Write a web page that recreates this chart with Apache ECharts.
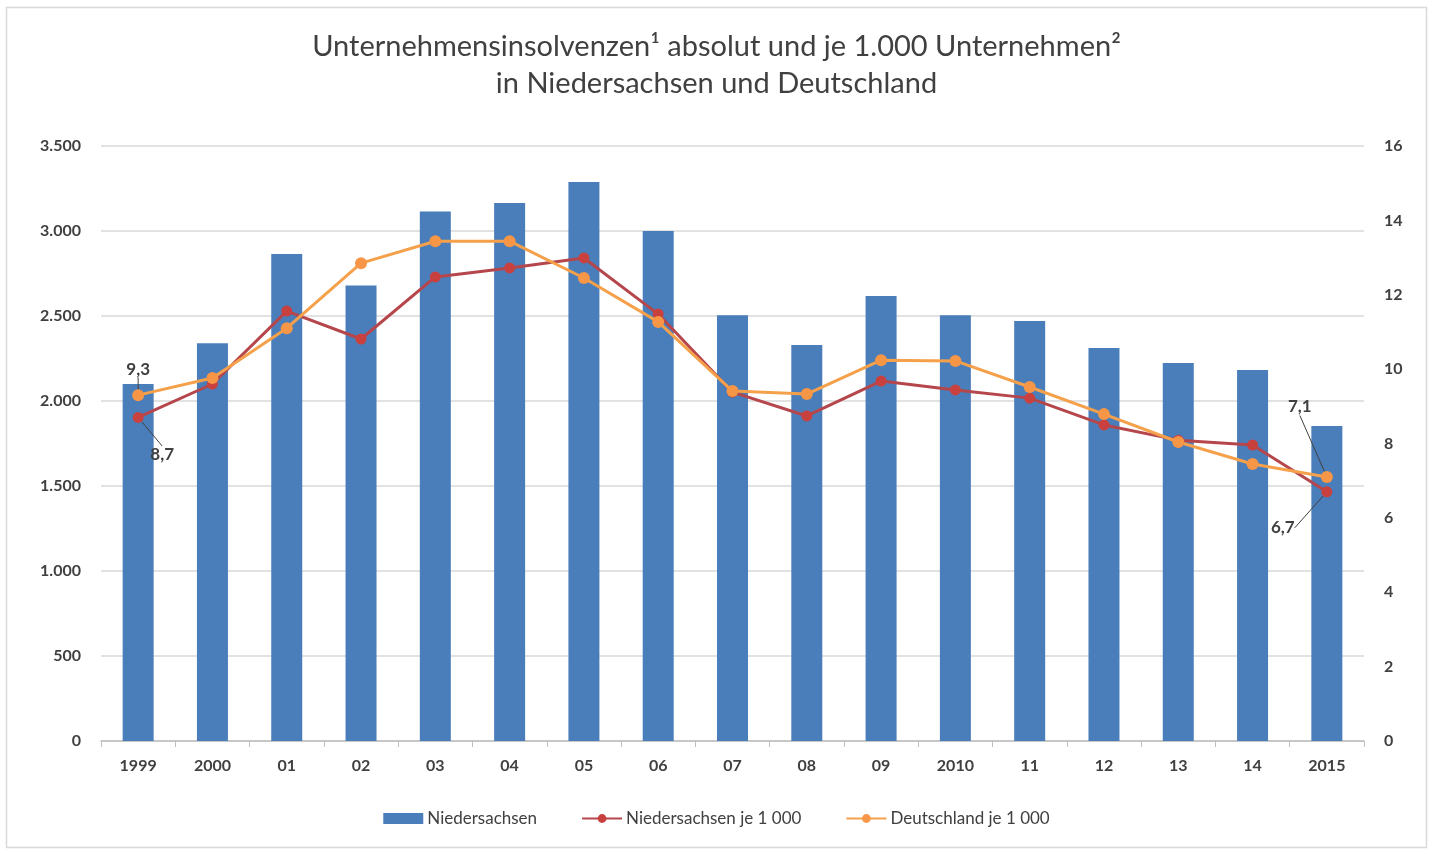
<!DOCTYPE html>
<html><head><meta charset="utf-8">
<script src="https://cdn.jsdelivr.net/npm/echarts@6/dist/echarts.min.js"></script>
<style>html,body{margin:0;padding:0;background:#fff}#c{width:1433px;height:854px}</style>
</head><body><div id="c"></div>
<script>
const categories = ['1999','2000','01','02','03','04','05','06','07','08','09','2010','11','12','13','14','2015'];
const niedersachsenAbs = [2100,2340,2865,2680,3115,3165,3288,3000,2505,2330,2618,2505,2470,2312,2224,2182,1853];
const niedersachsenJe1000 = [8.7,9.6,11.56,10.81,12.48,12.72,12.99,11.48,9.38,8.74,9.68,9.44,9.22,8.5,8.09,7.96,6.7];
const deutschlandJe1000 = [9.3,9.76,11.1,12.85,13.44,13.44,12.45,11.27,9.41,9.33,10.24,10.22,9.52,8.79,8.04,7.45,7.1];
const leftTicks = [0,500,1000,1500,2000,2500,3000,3500];
const rightTicks = [0,2,4,6,8,10,12,14,16];

const FONT = 'Lato, "Open Sans", sans-serif';
const TXT = '#404040';
const fmtDE = v => String(v).replace(/\B(?=(\d{3})+(?!\d))/g, '.');
const fmtDec = v => v.toFixed(1).replace('.', ',');
const labelStyle = {fontFamily: FONT, fontSize: 17, fontWeight: 'bold', color: TXT};

const chart = echarts.init(document.getElementById('c'));
chart.setOption({
  animation: false,
  backgroundColor: '#fff',
  graphic: [{type:'rect', shape:{x:6.5,y:7.5,width:1420,height:840}, style:{fill:'none', stroke:'#d9d9d9', lineWidth:1.5}, silent:true}],
  title: {
    text: 'Unternehmensinsolvenzen¹ absolut und je 1.000 Unternehmen²\nin Niedersachsen und Deutschland',
    left: 'center', top: 23,
    textStyle: {fontFamily: FONT, fontSize: 29, fontWeight: 'normal', color: TXT, lineHeight: 37}
  },
  legend: {
    bottom: 22, left: 'center', itemGap: 44, itemWidth: 40, itemHeight: 11,
    textStyle: {fontFamily: FONT, fontSize: 17, color: TXT, padding: [0,0,0,-1]},
    data: [
      {name: 'Niedersachsen', icon: 'rect'},
      {name: 'Niedersachsen je 1 000'},
      {name: 'Deutschland je 1 000'}
    ]
  },
  grid: {left: 101, right: 69, top: 146, bottom: 113},
  xAxis: {
    type: 'category', data: categories, boundaryGap: true,
    axisLine: {lineStyle: {color: '#bfbfbf', width: 1.5}},
    axisTick: {show: true, length: 6, lineStyle: {color: '#bfbfbf'}},
    axisLabel: {fontFamily: FONT, fontSize: 16, fontWeight: 'bold', color: TXT, margin: 17}
  },
  yAxis: [
    {type: 'value', min: 0, max: 3500, interval: 500,
     axisLine: {show: false}, axisTick: {show: false},
     splitLine: {lineStyle: {color: '#d9d9d9', width: 1.5}},
     axisLabel: {fontFamily: FONT, fontSize: 16, fontWeight: 'bold', color: TXT, margin: 20, formatter: fmtDE}},
    {type: 'value', min: 0, max: 16, interval: 2, position: 'right',
     axisLine: {show: false}, axisTick: {show: false}, splitLine: {show: false},
     axisLabel: {fontFamily: FONT, fontSize: 16, fontWeight: 'bold', color: TXT, margin: 20}}
  ],
  series: [
    {name: 'Niedersachsen', type: 'bar', data: niedersachsenAbs, barWidth: 31,
     itemStyle: {color: '#4a7ebb'}},
    {name: 'Niedersachsen je 1 000', type: 'line', yAxisIndex: 1, data: niedersachsenJe1000,
     symbol: 'circle', symbolSize: 11, z: 3,
     lineStyle: {color: '#b5464b', width: 3}, itemStyle: {color: '#c9413f'},
     label: {show: true, position: 'inside', ...labelStyle,
       formatter: p => (p.dataIndex === 0 || p.dataIndex === categories.length - 1) ? fmtDec(p.value) : ''},
     labelLine: {show: true, lineStyle: {color: '#404040', width: 1}},
     labelLayout: p => p.dataIndex === 0 ? {dx: 24, dy: 37} : (p.dataIndex === categories.length - 1 ? {dx: -44, dy: 36} : {})
    },
    {name: 'Deutschland je 1 000', type: 'line', yAxisIndex: 1, data: deutschlandJe1000,
     symbol: 'circle', symbolSize: 12, z: 4,
     lineStyle: {color: '#f5a04a', width: 3}, itemStyle: {color: '#f79646'},
     label: {show: true, position: 'inside', ...labelStyle,
       formatter: p => (p.dataIndex === 0 || p.dataIndex === categories.length - 1) ? fmtDec(p.value) : ''},
     labelLine: {show: true, lineStyle: {color: '#404040', width: 1}},
     labelLayout: p => p.dataIndex === 0 ? {dx: 0, dy: -26} : (p.dataIndex === categories.length - 1 ? {dx: -27, dy: -70} : {})
    }
  ]
});
</script></body></html>
